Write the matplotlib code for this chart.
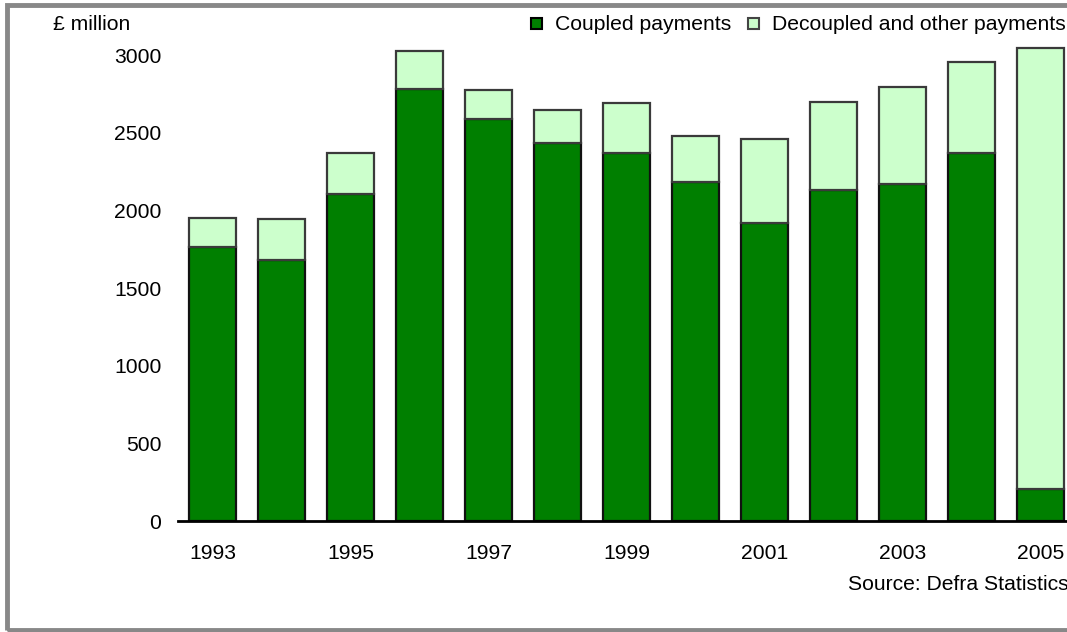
import matplotlib
matplotlib.use("Agg")
import matplotlib.pyplot as plt
from matplotlib.patches import Rectangle

years = [1993, 1994, 1995, 1996, 1997, 1998, 1999, 2000, 2001, 2002, 2003, 2004, 2005]
coupled = [1764, 1684, 2105, 2781, 2587, 2436, 2373, 2186, 1922, 2131, 2173, 2369, 208]
decoupled = [191, 262, 268, 247, 190, 210, 320, 295, 537, 566, 625, 586, 2837]
yticks = [0, 500, 1000, 1500, 2000, 2500, 3000]
xtick_labels = ["1993", "", "1995", "", "1997", "", "1999", "", "2001", "", "2003", "", "2005"]

plt.rcParams['font.family'] = ['Liberation Sans', 'DejaVu Sans']
FS = 15.2
W, H = 1067, 632
fig = plt.figure(figsize=(W / 100, H / 100), dpi=100)

def fx(px):
    return px / W

def fy(py):
    return 1 - py / H

# axes: x from 178 px to 1075 px, y: 0 at 521.3 px, 3100 at top
ax_left, ax_right = 178, 1075
y0 = 521.3
ppu = 466.0 / 3000
ymax = 3100
ax_top = y0 - ymax * ppu
ax = fig.add_axes([fx(ax_left), fy(y0), fx(ax_right - ax_left), (y0 - ax_top) / H])

green = "#007F00"
light = "#CCFFCC"
x = list(range(len(years)))
ax.bar(x, coupled, width=0.68, color=green, edgecolor="#111111", linewidth=1.6, zorder=2)
ax.bar(x, decoupled, bottom=coupled, width=0.68, color=light, edgecolor="#3a3a3a", linewidth=1.6, zorder=2)

ax.set_xlim(-0.5, len(years) - 0.5)
ax.set_ylim(0, ymax)
ax.set_yticks(yticks)
ax.set_yticklabels([str(v) for v in yticks], fontsize=FS)
ax.set_xticks(x)
ax.set_xticklabels(xtick_labels, fontsize=FS)
ax.tick_params(axis='y', length=0, pad=12)
ax.tick_params(axis='x', length=0, pad=16)
for s in ['left', 'right', 'top']:
    ax.spines[s].set_visible(False)
ax.spines['bottom'].set_linewidth(2)
ax.spines['bottom'].set_color('black')
ax.patch.set_alpha(0)

# unit label
fig.text(fx(53), fy(24.5), "£ million", fontsize=FS, ha='left', va='center')

# legend (manual)
fig.add_artist(Rectangle((fx(531), fy(28.5)), fx(11), 11 / H, facecolor=green,
                         edgecolor="black", linewidth=1.5, transform=fig.transFigure))
fig.text(fx(555), fy(24.5), "Coupled payments", fontsize=FS, ha='left', va='center')
fig.add_artist(Rectangle((fx(748), fy(28.5)), fx(11), 11 / H, facecolor=light,
                         edgecolor="#444444", linewidth=1.5, transform=fig.transFigure))
fig.text(fx(772), fy(24.5), "Decoupled and other payments", fontsize=FS, ha='left', va='center')

# source
fig.text(fx(848), fy(584), "Source: Defra Statistics", fontsize=FS, ha='left', va='center')

# outer gray border
fig.add_artist(Rectangle((fx(7), fy(630)), fx(1100), (630 - 5) / H, facecolor='none',
                         edgecolor="#888888", linewidth=3.5, transform=fig.transFigure))

fig.savefig("out.png", dpi=100)
